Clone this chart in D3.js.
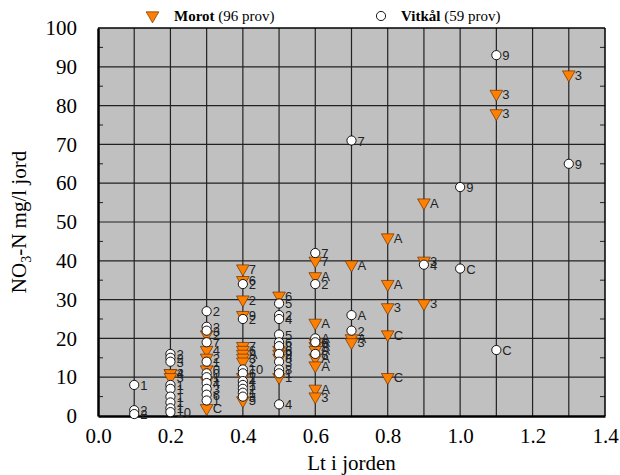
<!DOCTYPE html>
<html><head><meta charset="utf-8">
<script src="https://cdn.jsdelivr.net/npm/d3@7/dist/d3.min.js"></script>
<style>body{margin:0;background:#fff}svg{display:block}</style>
</head><body>
<svg id="c" width="620" height="475"></svg>
<script>
const xTicks = [0, 0.2, 0.4, 0.6, 0.8, 1.0, 1.2, 1.4];
const yTicks = [0, 10, 20, 30, 40, 50, 60, 70, 80, 90, 100];
const xGrid = [0.1,0.2,0.3,0.4,0.5,0.6,0.7,0.8,0.9,1.0,1.1,1.2,1.3];
const yMinor = [5,15,25,35,45,55,65,75,85,95];
// Morot: [Lt, NO3-N, label]
const morot = [
 [1.3,88,"3"],[1.1,83,"3"],[1.1,78,"3"],
 [0.9,55,"A"],[0.9,40,"3"],[0.9,29,"3"],
 [0.8,46,"A"],[0.8,34,"A"],[0.8,28,"3"],[0.8,21,"C"],[0.8,10,"C"],
 [0.7,39,"A"],[0.7,20,"A"],[0.7,19,"3"],
 [0.6,40,"7"],[0.6,36,"A"],[0.6,24,"A"],[0.6,19,"A"],[0.6,18,"A"],[0.6,17,"A"],[0.6,15,"A"],[0.6,13,"A"],[0.6,7,"A"],[0.6,5,"3"],
 [0.5,31,"6"],[0.5,17,"6"],[0.5,16,"9"],[0.5,15,"8"],[0.5,10,"1"],
 [0.4,38,"7"],[0.4,35,"6"],[0.4,30,"2"],[0.4,26,"9"],[0.4,18,"7"],[0.4,17,"6"],[0.4,16,"A"],[0.4,15,"3"],[0.4,14,"2"],[0.4,10,"1"],[0.4,4,"5"],
 [0.3,21,"2"],[0.3,17,"4"],[0.3,15,"2"],[0.3,12,"0"],[0.3,9,"1"],[0.3,2,"C"],
 [0.2,11,"2"],[0.2,11,"4"],[0.2,10,"3"]
];
// Vitkål: [Lt, NO3-N, label]
const vitkal = [
 [1.3,65,"9"],[1.1,93,"9"],[1.1,17,"C"],[1.0,59,"9"],[1.0,38,"C"],[0.9,39,"4"],
 [0.7,71,"7"],[0.7,26,"A"],[0.7,22,"2"],
 [0.6,42,"7"],[0.6,34,"2"],[0.6,20,"A"],[0.6,19,"6"],[0.6,16,"8"],
 [0.5,29,"5"],[0.5,26,"2"],[0.5,25,"4"],[0.5,21,"5"],[0.5,19,"6"],[0.5,18,"8"],[0.5,16,"2"],[0.5,14,"3"],[0.5,12,"8"],[0.5,11,"1"],[0.5,3,"4"],
 [0.4,34,"2"],[0.4,25,"2"],[0.4,12,"10"],[0.4,11,"6"],[0.4,9,"4"],[0.4,8,"1"],[0.4,7,"2"],[0.4,6,"1"],[0.4,5,"3"],
 [0.3,27,"2"],[0.3,23,"2"],[0.3,22,"3"],[0.3,19,"7"],[0.3,14,"1"],[0.3,11,"0"],[0.3,10,"1"],[0.3,8.5,"4"],[0.3,7,"3"],[0.3,5.5,"6"],[0.3,4,"1"],
 [0.2,16,"2"],[0.2,15,"2"],[0.2,14,"3"],[0.2,8,"1"],[0.2,7,"1"],[0.2,5,"1"],[0.2,3.5,"1"],[0.2,2,"1"],[0.2,1,"10"],
 [0.1,8,"1"],[0.1,1.5,"2"],[0.1,0.5,"2"]
];

const svg = d3.select("#c");
const L = 98, R = 605, T = 28, B = 416;
const x = d3.scaleLinear().domain([0, 1.4]).range([L, R]);
const y = d3.scaleLinear().domain([0, 100]).range([B, T]);
const serif = "'Liberation Serif','Times New Roman',serif";
const sans = "'Liberation Sans',Arial,sans-serif";

svg.append("rect").attr("x", L).attr("y", T).attr("width", R - L).attr("height", B - T).attr("fill", "#c0c0c0");

// grid
svg.append("g").selectAll("line").data(xGrid).join("line")
  .attr("x1", d => x(d)).attr("x2", d => x(d)).attr("y1", T).attr("y2", B)
  .attr("stroke", "#222").attr("stroke-width", 1.2);
svg.append("g").selectAll("line").data(yTicks.slice(1, -1)).join("line")
  .attr("x1", L).attr("x2", R).attr("y1", d => y(d)).attr("y2", d => y(d))
  .attr("stroke", "#222").attr("stroke-width", 1.2);
// minor ticks
const mt = svg.append("g");
mt.selectAll(".l").data(yMinor).join("line").attr("class","l")
  .attr("x1", L).attr("x2", L + 5).attr("y1", d => y(d)).attr("y2", d => y(d)).attr("stroke", "#222");
mt.selectAll(".r").data(yMinor).join("line").attr("class","r")
  .attr("x1", R - 5).attr("x2", R).attr("y1", d => y(d)).attr("y2", d => y(d)).attr("stroke", "#222");

// frame
svg.append("line").attr("x1", L).attr("x2", R).attr("y1", T).attr("y2", T).attr("stroke", "#000").attr("stroke-width", 1.5);
svg.append("line").attr("x1", R).attr("x2", R).attr("y1", T).attr("y2", B).attr("stroke", "#000").attr("stroke-width", 1.5);

// axes
const xAxis = d3.axisBottom(x).tickValues(xTicks).tickFormat(d3.format(".1f")).tickSize(0).tickPadding(12);
const gx = svg.append("g").attr("transform", `translate(0,${B})`).call(xAxis)
  .attr("font-family", null).style("font-family", serif).style("font-size", "21px");
gx.select(".domain").attr("stroke", "#000").attr("stroke-width", 2.5);
gx.selectAll("text").style("font-family", serif).style("font-size", "21px").attr("fill", "#000");
const yAxis = d3.axisLeft(y).tickValues(yTicks).tickFormat(d3.format("d")).tickSize(0).tickPadding(21);
const gy = svg.append("g").attr("transform", `translate(${L},0)`).call(yAxis)
  .attr("font-family", null).style("font-family", serif).style("font-size", "21px");
gy.select(".domain").attr("stroke", "#000").attr("stroke-width", 2.5);
gy.selectAll("text").style("font-family", serif).style("font-size", "21px").attr("fill", "#000");

// titles
svg.append("text").attr("x", (L + R) / 2).attr("y", 470).attr("text-anchor", "middle")
  .style("font-family", serif).style("font-size", "21px").text("Lt i jorden");
const yt = svg.append("text").attr("transform", `translate(26,${(T + B) / 2}) rotate(-90)`)
  .attr("text-anchor", "middle").style("font-family", serif).style("font-size", "21px");
yt.append("tspan").text("NO");
yt.append("tspan").style("font-size", "14px").attr("dy", 5).text("3");
yt.append("tspan").attr("dy", -5).text("-N mg/l jord");

const tri = d3.symbol().type(d3.symbolTriangle).size(70);
const orange = "#ff7f00";

// point labels and markers
const gm = svg.append("g");
gm.selectAll(".tm").data(morot).join("path").attr("class","tm")
  .attr("d", tri).attr("transform", d => `translate(${x(d[0])},${y(d[1])}) rotate(180)`)
  .attr("fill", orange).attr("stroke", "#6a3000").attr("stroke-width", 0.7);
gm.selectAll(".tl").data(morot).join("text").attr("class","tl")
  .attr("x", d => x(d[0]) + 6).attr("y", d => y(d[1]) + 5)
  .style("font-family", sans).style("font-size", "13px").attr("fill", "#222").text(d => d[2]);
gm.selectAll(".cm").data(vitkal).join("circle").attr("class","cm")
  .attr("cx", d => x(d[0])).attr("cy", d => y(d[1])).attr("r", 4.6)
  .attr("fill", "#fff").attr("stroke", "#000").attr("stroke-width", 0.9);
gm.selectAll(".cl").data(vitkal).join("text").attr("class","cl")
  .attr("x", d => x(d[0]) + 6).attr("y", d => y(d[1]) + 5)
  .style("font-family", sans).style("font-size", "13px").attr("fill", "#222").text(d => d[2]);

// legend
svg.append("path").attr("d", tri).attr("transform", "translate(152.5,15.5) rotate(180)")
  .attr("fill", orange).attr("stroke", "#6a3000").attr("stroke-width", 0.7);
const t1 = svg.append("text").attr("x", 174).attr("y", 21).style("font-family", serif).style("font-size", "15px");
t1.append("tspan").attr("font-weight", "bold").text("Morot");
t1.append("tspan").text(" (96 prov)");
svg.append("circle").attr("cx", 381).attr("cy", 16).attr("r", 4.6).attr("fill", "#fff").attr("stroke", "#000").attr("stroke-width", 0.9);
const t2 = svg.append("text").attr("x", 401).attr("y", 21).style("font-family", serif).style("font-size", "15px");
t2.append("tspan").attr("font-weight", "bold").text("Vitkål");
t2.append("tspan").text(" (59 prov)");
</script>
</body></html>
